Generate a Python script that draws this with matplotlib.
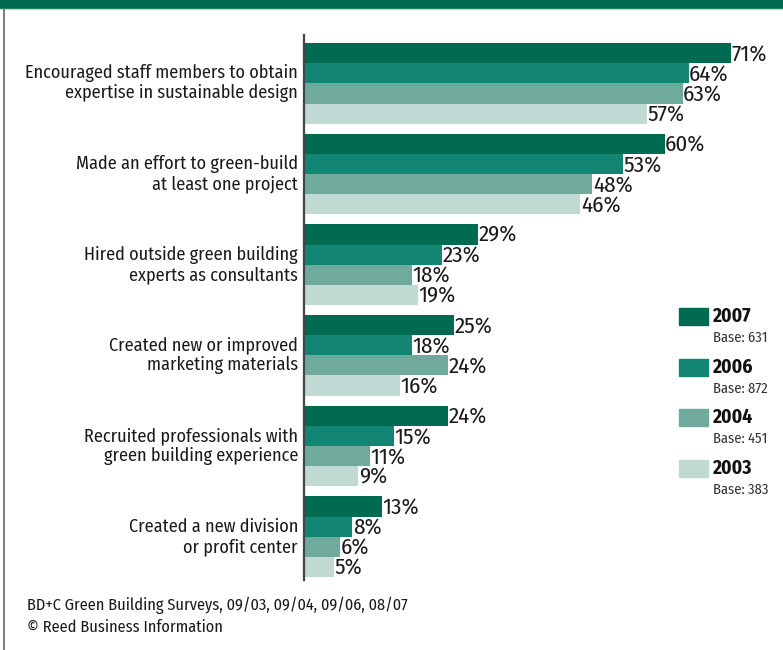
import matplotlib
matplotlib.use("Agg")
import matplotlib.pyplot as plt
from matplotlib.patches import Rectangle
from matplotlib.lines import Line2D

plt.rcParams["font.family"] = ["Fira Sans Condensed", "DejaVu Sans"]

# Data
categories = [
    "Encouraged staff members to obtain\nexpertise in sustainable design",
    "Made an effort to green-build\nat least one project",
    "Hired outside green building\nexperts as consultants",
    "Created new or improved\nmarketing materials",
    "Recruited professionals with\ngreen building experience",
    "Created a new division\nor profit center",
]
years = ["2007", "2006", "2004", "2003"]
bases = ["Base: 631", "Base: 872", "Base: 451", "Base: 383"]
values = {
    "2007": [71, 60, 29, 25, 24, 13],
    "2006": [64, 53, 23, 18, 15, 8],
    "2004": [63, 48, 18, 24, 11, 6],
    "2003": [57, 46, 19, 16, 9, 5],
}
colors = ["#006B50", "#138673", "#6FAA9C", "#C0DAD3"]

fig = plt.figure(figsize=(7.83, 6.5), dpi=100)

# top band and frame
fig.patches.append(Rectangle((0, 1 - 8 / 650), 1, 8 / 650, transform=fig.transFigure,
                             color="#006B50", zorder=0))
fig.lines.append(Line2D([0, 1], [1 - 8.5 / 650] * 2, transform=fig.transFigure,
                        color="#BFD8D0", lw=1))
fig.lines.append(Line2D([3.5 / 783] * 2, [0, 1 - 9 / 650], transform=fig.transFigure,
                        color="#666666", lw=1.2))

ax = fig.add_axes([304 / 783, 1 - 580 / 650, 1 - 304 / 783, (580 - 35) / 650])

group_gap = 4.5
for j, yr in enumerate(years):
    ys = [i * group_gap + j for i in range(len(categories))]
    ax.barh(ys, values[yr], height=1.0, color=colors[j], linewidth=0)
    for y, v in zip(ys, values[yr]):
        ax.text(v + 0.1, y + 0.05, f"{v}%", va="center", ha="left", fontsize=16.5,
                color="#1a1a1a")

for i, cat in enumerate(categories):
    ax.text(-1.0, i * group_gap + 1.5, cat, ha="right", va="center", fontsize=13.1,
            color="#1a1a1a", linespacing=1.15)

ax.set_xlim(0, 79.7)
ax.set_ylim(26.15, -0.9)
for s in ["top", "right", "bottom"]:
    ax.spines[s].set_visible(False)
ax.spines["left"].set_color("#444444")
ax.spines["left"].set_linewidth(1.6)
ax.set_xticks([])
ax.set_yticks([])
ax.patch.set_alpha(0)

# legend
for j, yr in enumerate(years):
    top = 308 + j * 50.5
    fig.patches.append(Rectangle((679 / 783, 1 - (top + 17) / 650), 29 / 783, 17 / 650,
                                 transform=fig.transFigure, color=colors[j]))
    fig.text(713 / 783, 1 - (top + 8.5) / 650, yr, fontsize=14, fontweight="bold",
             va="center", ha="left", color="#111111")
    fig.text(713 / 783, 1 - (top + 30) / 650, bases[j], fontsize=10.5,
             va="center", ha="left", color="#333333")

# footer
fig.text(27 / 783, 1 - 605 / 650, "BD+C Green Building Surveys, 09/03, 09/04, 09/06, 08/07",
         fontsize=11.7, va="center", ha="left", color="#1a1a1a")
fig.text(27 / 783, 1 - 627 / 650, "\u00a9 Reed Business Information",
         fontsize=11.7, va="center", ha="left", color="#1a1a1a")

fig.savefig("out.png", dpi=100)
